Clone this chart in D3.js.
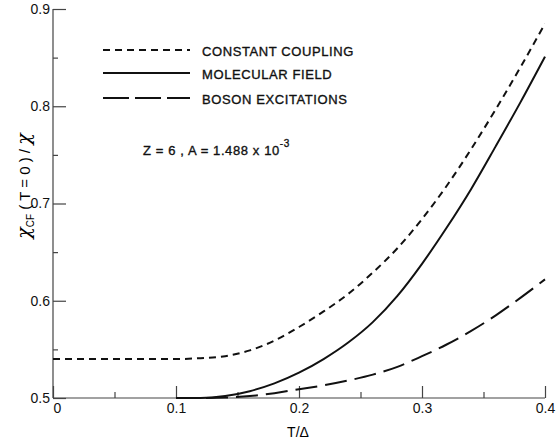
<!DOCTYPE html>
<html>
<head>
<meta charset="utf-8">
<script src="https://cdn.jsdelivr.net/npm/d3@7"></script>
<style>
  body { margin: 0; background: #fff; }
  svg { display: block; font-family: "Liberation Sans", Arial, sans-serif; }
  .axis path, .axis line { stroke: #444; stroke-width: 1.2; }
  .axis text { font-size: 14px; fill: #111; }
  .curve { fill: none; stroke: #111; stroke-width: 2; }
  .legend text { font-size: 13px; letter-spacing: 0.6px; fill: #111; stroke: #111; stroke-width: 0.35; }
</style>
</head>
<body>
<svg width="560" height="446"></svg>
<script>
// T/Delta sample points
var temps = [0, 0.1, 0.12, 0.14, 0.16, 0.18, 0.2, 0.22, 0.24, 0.26, 0.28, 0.3, 0.32, 0.34, 0.36, 0.38, 0.4];
// chi_CF(T=0)/chi for each model
var constantCoupling = [0.54, 0.54, 0.541, 0.543, 0.549, 0.559, 0.573, 0.589, 0.607, 0.629, 0.654, 0.684, 0.718, 0.756, 0.797, 0.840, 0.885];
var molecularField   = [null, 0.5, 0.5, 0.502, 0.507, 0.515, 0.526, 0.540, 0.557, 0.578, 0.605, 0.638, 0.675, 0.715, 0.759, 0.804, 0.851];
var bosonExcitations = [null, 0.5, 0.5, 0.5005, 0.502, 0.505, 0.509, 0.513, 0.518, 0.524, 0.532, 0.543, 0.555, 0.569, 0.585, 0.603, 0.622];

var seriesNames = ["CONSTANT COUPLING", "MOLECULAR FIELD", "BOSON EXCITATIONS"];
var seriesDash = ["7,5", null, "22,8"];
var seriesValues = [constantCoupling, molecularField, bosonExcitations];

var xTicks = [0, 0.1, 0.2, 0.3, 0.4];
var xMinor = [0.05, 0.15, 0.25, 0.35];
var yTicks = [0.5, 0.6, 0.7, 0.8, 0.9];
var yMinor = [0.55, 0.65, 0.75, 0.85];

var svg = d3.select("svg");
var x = d3.scaleLinear().domain([0, 0.4]).range([53, 545]);
var y = d3.scaleLinear().domain([0.5, 0.9]).range([398, 9]);

// axes, ticks point inward
var fmt = function(d) { return d === 0 ? "0" : d3.format(".1f")(d); };

svg.append("g")
    .attr("class", "axis")
    .attr("transform", "translate(0," + y(0.5) + ")")
    .call(d3.axisBottom(x).tickValues(xTicks).tickSize(-12).tickPadding(5).tickFormat(fmt))
    .call(function(g) {
      g.select(".domain").attr("d", "M" + x(0) + ",0H" + x(0.4));
      g.selectAll(".tick text").filter(function(d) { return d === 0; }).attr("dx", 4);
    });
svg.append("g")
    .attr("class", "axis")
    .attr("transform", "translate(0," + y(0.5) + ")")
    .call(d3.axisBottom(x).tickValues(xMinor).tickSize(-6).tickFormat(""))
    .call(function(g) { g.select(".domain").remove(); });

svg.append("g")
    .attr("class", "axis")
    .attr("transform", "translate(" + x(0) + ",0)")
    .call(d3.axisLeft(y).tickValues(yTicks).tickSize(-13).tickPadding(3).tickFormat(d3.format(".1f")))
    .call(function(g) { g.select(".domain").attr("d", "M0," + y(0.9) + "V" + y(0.5)); });
svg.append("g")
    .attr("class", "axis")
    .attr("transform", "translate(" + x(0) + ",0)")
    .call(d3.axisLeft(y).tickValues(yMinor).tickSize(-5).tickFormat(""))
    .call(function(g) { g.select(".domain").remove(); });

// curves
var line = d3.line()
    .defined(function(d) { return d[1] != null; })
    .x(function(d) { return x(d[0]); })
    .y(function(d) { return y(d[1]); })
    .curve(d3.curveMonotoneX);

seriesValues.forEach(function(vals, i) {
  svg.append("path")
      .attr("class", "curve")
      .attr("stroke-dasharray", seriesDash[i])
      .attr("d", line(temps.map(function(t, j) { return [t, vals[j]]; })));
});

// legend
var legend = svg.append("g").attr("class", "legend");
var legendY = [50, 73, 98];
seriesNames.forEach(function(name, i) {
  legend.append("line")
      .attr("x1", 103).attr("x2", 190)
      .attr("y1", legendY[i]).attr("y2", legendY[i])
      .attr("stroke", "#111").attr("stroke-width", 2)
      .attr("stroke-dasharray", i == 2 ? "26,6" : seriesDash[i]);
  legend.append("text")
      .attr("x", 202).attr("y", legendY[i] + 6)
      .text(name);
});

var note = legend.append("text").attr("x", 143).attr("y", 155).attr("font-size", 13.5);
note.append("tspan").text("Z = 6 ,  A = 1.488 x 10");
note.append("tspan").attr("dy", -8).attr("font-size", 10).text("-3");

// axis titles
svg.append("text")
    .attr("x", 298).attr("y", 437)
    .attr("text-anchor", "middle")
    .attr("font-size", 14)
    .text("T/Δ");

var ylab = svg.append("text")
    .attr("transform", "translate(30,186) rotate(-90)")
    .attr("text-anchor", "middle")
    .attr("font-size", 15);
ylab.append("tspan").attr("font-size", 19).attr("font-family", "DejaVu Serif").attr("font-style", "italic").text("χ");
ylab.append("tspan").attr("font-size", 10).attr("dy", 4).text("CF");
ylab.append("tspan").attr("dy", -4).text(" ( T = 0 ) / ");
ylab.append("tspan").attr("font-size", 19).attr("font-family", "DejaVu Serif").attr("font-style", "italic").text("χ");
</script>
</body>
</html>
